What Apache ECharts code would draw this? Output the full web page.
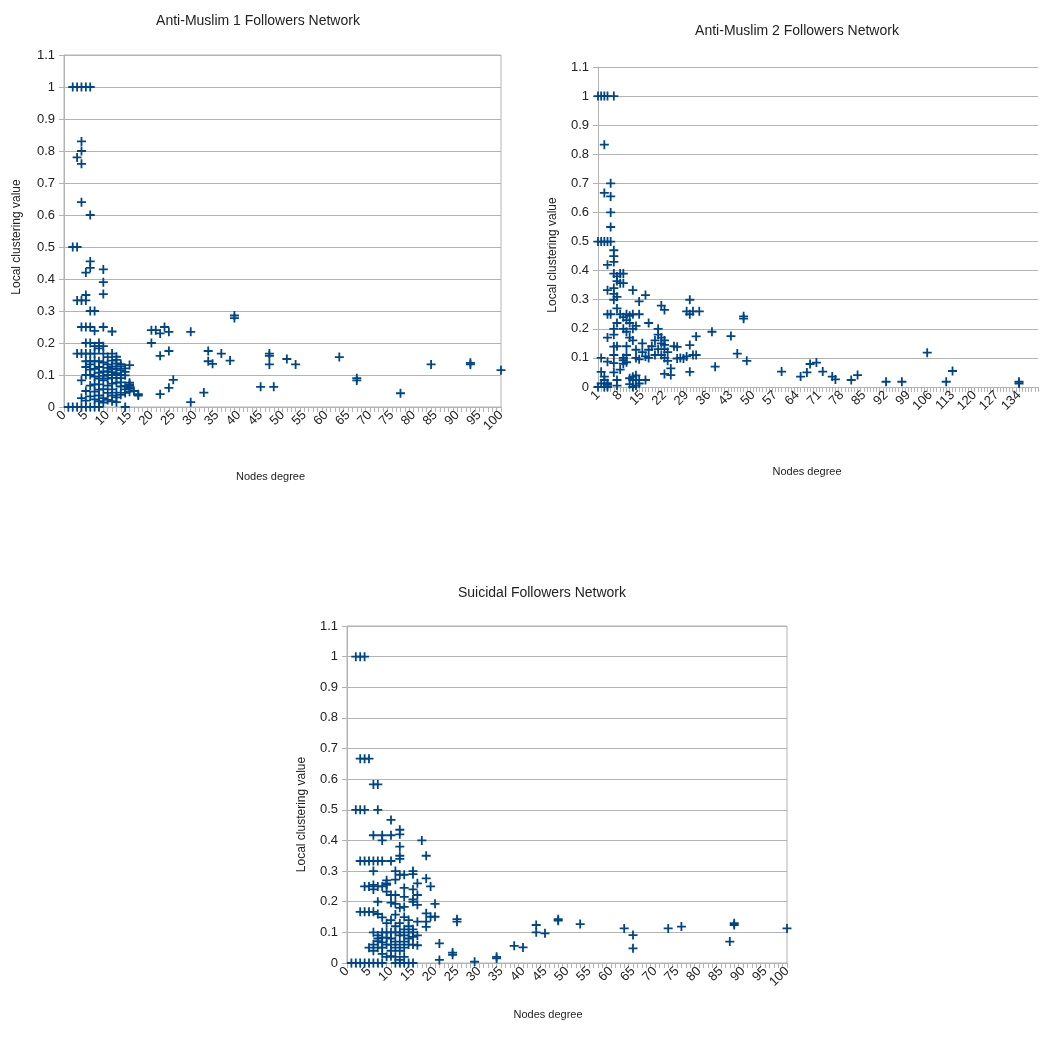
<!DOCTYPE html>
<html>
<head>
<meta charset="utf-8">
<title>Followers networks - local clustering</title>
<script src="https://cdn.jsdelivr.net/npm/echarts@6/dist/echarts.min.js"></script>
<style>
  html, body { margin: 0; padding: 0; background: #fff; }
  #main { width: 1040px; height: 1053px; }
</style>
</head>
<body>
<div id="main"></div>
<script>
// chart titles
const titles = ['Anti-Muslim 1 Followers Network', 'Anti-Muslim 2 Followers Network', 'Suicidal Followers Network'];

// x categories (node degree)
const deg0to100 = [];
for (let i = 0; i <= 100; i++) deg0to100.push(String(i));
const deg1to140 = [];
for (let i = 1; i <= 140; i++) deg1to140.push(String(i));

// [degree, local clustering value]
const am1Data = [
  [2, 1], [3, 1], [4, 1], [5, 1], [6, 1],
  [4, 0.83], [4, 0.8], [3, 0.78], [4, 0.76], [4, 0.64], [6, 0.6],
  [2, 0.5], [3, 0.5],
  [6, 0.455], [6, 0.435], [5, 0.42], [9, 0.43], [9, 0.39], [9, 0.353],
  [3, 0.333], [4, 0.333], [5, 0.333], [5, 0.35],
  [6, 0.3], [7, 0.3],
  [4, 0.25], [5, 0.25], [6, 0.25], [9, 0.25], [7, 0.238], [11, 0.236],
  [5, 0.2], [6, 0.2], [8, 0.19], [8, 0.2], [9, 0.19], [8, 0.183],
  [3, 0.167], [4, 0.167], [5, 0.167], [6, 0.167], [7, 0.167], [11, 0.167],
  [12, 0.157], [12, 0.147], [13, 0.134], [15, 0.131],
  [20, 0.24], [21, 0.24], [20, 0.2], [22, 0.23], [23, 0.25], [24, 0.235],
  [22, 0.16], [24, 0.175], [25, 0.085], [24, 0.06], [22, 0.04],
  [29, 0.235], [29, 0.015], [32, 0.045], [33, 0.175], [33, 0.143], [34, 0.135],
  [36, 0.167], [38, 0.145], [39, 0.286], [39, 0.278],
  [45, 0.063], [47, 0.167], [47, 0.16], [47, 0.133], [48, 0.063], [51, 0.15],
  [53, 0.133], [63, 0.156], [67, 0.09], [67, 0.083], [77, 0.043], [84, 0.133],
  [93, 0.133], [93, 0.138], [100, 0.115],
  [1, 0], [2, 0], [3, 0], [4, 0], [5, 0], [6, 0], [7, 0], [8, 0], [14, 0],
  [4, 0.028], [4, 0.083],
  [5, 0.02], [5, 0.05], [5, 0.1], [5, 0.125], [5, 0.143],
  [6, 0.033], [6, 0.067], [6, 0.1], [6, 0.117], [6, 0.133], [6, 0.143],
  [7, 0.024], [7, 0.048], [7, 0.071], [7, 0.095], [7, 0.119], [7, 0.143], [7, 0.19],
  [8, 0.018], [8, 0.036], [8, 0.054], [8, 0.071], [8, 0.089], [8, 0.107], [8, 0.125], [8, 0.143],
  [9, 0.014], [9, 0.028], [9, 0.056], [9, 0.083], [9, 0.097], [9, 0.111], [9, 0.139], [9, 0.167],
  [10, 0.022], [10, 0.044], [10, 0.067], [10, 0.089], [10, 0.1], [10, 0.111], [10, 0.122], [10, 0.133], [10, 0.156],
  [11, 0.018], [11, 0.036], [11, 0.055], [11, 0.073], [11, 0.091], [11, 0.1], [11, 0.109], [11, 0.118], [11, 0.127], [11, 0.145],
  [12, 0.015], [12, 0.03], [12, 0.045], [12, 0.076], [12, 0.091], [12, 0.106], [12, 0.121], [12, 0.136],
  [13, 0.038], [13, 0.064], [13, 0.077], [13, 0.09], [13, 0.1], [13, 0.115], [13, 0.128],
  [14, 0.044], [14, 0.055], [14, 0.066], [14, 0.099], [14, 0.11], [14, 0.121],
  [15, 0.048], [15, 0.057], [15, 0.062], [15, 0.067], [15, 0.071], [15, 0.076],
  [16, 0.05], [17, 0.04], [17, 0.036]
];

const am2Data = [
  [1, 1], [2, 1], [3, 1], [4, 1], [6, 1],
  [3, 0.833], [3, 0.667], [5, 0.7], [5, 0.655], [5, 0.6], [5, 0.55],
  [1, 0.5], [2, 0.5], [3, 0.5], [4, 0.5], [5, 0.5],
  [6, 0.47], [6, 0.45], [6, 0.43], [4, 0.42],
  [6, 0.39], [7, 0.38], [8, 0.39], [9, 0.39], [9, 0.357], [7, 0.364], [8, 0.357],
  [4, 0.333], [6, 0.34], [12, 0.333], [6, 0.32], [6, 0.3], [7, 0.31],
  [16, 0.316], [14, 0.294], [21, 0.28], [22, 0.265],
  [30, 0.3], [29, 0.26], [31, 0.26], [33, 0.26], [30, 0.25],
  [4, 0.25], [5, 0.25], [7, 0.27], [8, 0.25], [10, 0.25], [11, 0.245], [12, 0.25], [14, 0.25],
  [9, 0.24], [10, 0.23], [7, 0.22], [11, 0.22], [12, 0.2],
  [4, 0.17], [6, 0.2], [6, 0.18], [9, 0.2], [10, 0.19], [13, 0.21], [17, 0.22],
  [20, 0.2], [20, 0.18], [21, 0.17], [22, 0.145], [22, 0.13], [11, 0.17], [12, 0.16],
  [32, 0.174], [37, 0.19], [38, 0.07], [43, 0.175], [45, 0.115], [47, 0.243], [47, 0.235], [48, 0.09],
  [25, 0.14], [29, 0.105], [30, 0.144], [31, 0.11], [26, 0.098], [28, 0.098], [30, 0.052],
  [22, 0.045], [24, 0.064], [24, 0.041], [26, 0.138], [27, 0.1], [32, 0.11],
  [18, 0.14], [19, 0.16], [21, 0.15], [22, 0.16], [23, 0.12], [21, 0.11], [20, 0.13], [22, 0.1], [23, 0.09],
  [2, 0.1], [4, 0.087], [6, 0.139], [6, 0.082], [6, 0.11], [6, 0.05], [7, 0.14], [8, 0.06], [7, 0.005],
  [9, 0.08], [9, 0.092], [9, 0.1], [10, 0.11], [10, 0.085], [10, 0.14], [13, 0.128], [13, 0.1],
  [14, 0.095], [15, 0.15], [15, 0.12], [17, 0.128], [16, 0.105], [17, 0.1], [19, 0.11],
  [12, 0.024], [13, 0.024], [14, 0.024], [16, 0.024], [11, 0.01], [12, 0], [13, 0.005], [14, 0.012],
  [12, 0.035], [13, 0.04], [11, 0.03],
  [2, 0.052], [3, 0.024], [4, 0.013], [7, 0.024], [2, 0.012], [4, 0], [3, 0.036], [4, 0.007], [1, 0], [3, 0],
  [59, 0.053], [65, 0.036], [67, 0.05], [68, 0.079], [70, 0.084], [72, 0.053], [75, 0.036], [76, 0.026],
  [81, 0.024], [83, 0.041], [92, 0.018], [97, 0.018], [105, 0.118], [111, 0.018], [113, 0.055],
  [134, 0.018], [134, 0.012]
];

const suiData = [
  [2, 1], [3, 1], [4, 1],
  [3, 0.667], [4, 0.667], [5, 0.667],
  [6, 0.583], [7, 0.583],
  [2, 0.5], [3, 0.5], [4, 0.5], [7, 0.5],
  [10, 0.467], [6, 0.417], [8, 0.417], [10, 0.417], [8, 0.4], [12, 0.435], [12, 0.42], [17, 0.4],
  [12, 0.38], [12, 0.35], [18, 0.35],
  [3, 0.333], [4, 0.333], [5, 0.333], [6, 0.333], [7, 0.333], [8, 0.333], [10, 0.333], [12, 0.34],
  [6, 0.3], [11, 0.3], [12, 0.288], [11, 0.272], [15, 0.3], [15, 0.29], [13, 0.288], [9, 0.27], [9, 0.255],
  [8, 0.25], [9, 0.26],
  [4, 0.25], [5, 0.25], [6, 0.24], [7, 0.25], [6, 0.255], [16, 0.26], [18, 0.276], [19, 0.25],
  [9, 0.233], [10, 0.222], [13, 0.245], [15, 0.24], [11, 0.222], [13, 0.216], [16, 0.222], [15, 0.208],
  [10, 0.197], [11, 0.193], [7, 0.2], [20, 0.193],
  [3, 0.167], [4, 0.167], [5, 0.167], [6, 0.167], [7, 0.16], [13, 0.183], [12, 0.18], [11, 0.158],
  [15, 0.2], [16, 0.19], [18, 0.162], [19, 0.151], [20, 0.151], [18, 0.135], [16, 0.135], [8, 0.149],
  [25, 0.135], [25, 0.143], [18, 0.118],
  [6, 0.1], [7, 0.09], [8, 0.1], [16, 0.058], [21, 0.064], [21, 0.01], [24, 0.034], [24, 0.027],
  [29, 0.004], [34, 0.015], [34, 0.02], [38, 0.056], [40, 0.051], [43, 0.124], [43, 0.1], [45, 0.097],
  [48, 0.138], [48, 0.143], [53, 0.127], [63, 0.113], [65, 0.091], [65, 0.048], [73, 0.113], [76, 0.119],
  [87, 0.07], [88, 0.124], [88, 0.13], [100, 0.113],
  [1, 0], [2, 0], [3, 0], [4, 0], [5, 0], [6, 0], [7, 0], [8, 0], [11, 0], [12, 0], [13, 0], [14, 0], [15, 0],
  [8, 0.03], [9, 0.02], [10, 0.022],
  [5, 0.05], [6, 0.06], [6, 0.04], [7, 0.071], [7, 0.05], [7, 0.08], [8, 0.067], [8, 0.083], [8, 0.05],
  [9, 0.083], [9, 0.06], [9, 0.1], [10, 0.1], [10, 0.06], [10, 0.08], [10, 0.04],
  [11, 0.1], [11, 0.07], [11, 0.05], [11, 0.12], [12, 0.1], [12, 0.09], [12, 0.06], [12, 0.04],
  [13, 0.11], [13, 0.09], [13, 0.07], [13, 0.05], [14, 0.1], [14, 0.08], [14, 0.06], [14, 0.12],
  [15, 0.1], [15, 0.085], [15, 0.06], [15, 0.11], [16, 0.09], [9, 0.13], [10, 0.14], [12, 0.13],
  [14, 0.14], [13, 0.15], [11, 0.02], [12, 0.01], [13, 0.02]
];

const plusSymbol = 'path://M3.6,0H5.4V3.6H9V5.4H5.4V9H3.6V5.4H0V3.6H3.6Z';
const markColor = '#004586';
const lineGray = '#b3b3b3';
const textColor = '#222';
const font = 'Liberation Sans, Arial, sans-serif';

const chart = echarts.init(document.getElementById('main'));

function xAx(idx, cats, labelEvery, gap, padRight) {
  return {
    type: 'category', gridIndex: idx, data: cats, boundaryGap: false,
    name: 'Nodes degree', nameLocation: 'middle', nameGap: gap,
    nameTextStyle: { fontSize: 11, color: textColor, fontFamily: font, padding: [0, padRight, 0, 0] },
    axisLine: { lineStyle: { color: lineGray } },
    axisTick: { show: true, interval: 0, length: 5, lineStyle: { color: lineGray } },
    axisLabel: { interval: labelEvery - 1, rotate: 45, fontSize: 13, color: textColor, fontFamily: font, margin: 6 },
    splitLine: { show: false }
  };
}

function yAx(idx, gap, padRight) {
  return {
    type: 'value', gridIndex: idx, min: 0, max: 1.1, interval: 0.1,
    name: 'Local clustering value', nameLocation: 'middle', nameGap: gap,
    nameTextStyle: { fontSize: 12, color: textColor, fontFamily: font, padding: [0, padRight, 0, 0] },
    axisLine: { show: true, lineStyle: { color: lineGray } },
    axisTick: { show: true, length: 5, lineStyle: { color: lineGray } },
    axisLabel: { fontSize: 13, color: textColor, fontFamily: font, margin: 9 },
    splitLine: { lineStyle: { color: lineGray } }
  };
}

function series(idx, pts, shift) {
  return {
    type: 'scatter', xAxisIndex: idx, yAxisIndex: idx,
    symbol: plusSymbol, symbolSize: 9,
    itemStyle: { color: markColor, opacity: 1 },
    data: pts.map(p => [p[0] - shift, p[1]]),
    silent: true
  };
}

function gridBox(left, top, width, height, border) {
  return {
    left: left, top: top, width: width, height: height,
    containLabel: false, outerBoundsMode: 'none',
    show: true, borderColor: border ? lineGray : 'transparent', borderWidth: 1, backgroundColor: 'transparent'
  };
}

const option = {
  animation: false,
  backgroundColor: '#fff',
  title: [
    { text: titles[0], left: 253, top: 9, textAlign: 'center', textStyle: { fontSize: 14, fontWeight: 'normal', color: textColor, fontFamily: font } },
    { text: titles[1], left: 792, top: 19, textAlign: 'center', textStyle: { fontSize: 14, fontWeight: 'normal', color: textColor, fontFamily: font } },
    { text: titles[2], left: 537, top: 581, textAlign: 'center', textStyle: { fontSize: 14, fontWeight: 'normal', color: textColor, fontFamily: font } }
  ],
  grid: [
    gridBox(64, 55, 437, 352, true),
    gridBox(598, 67, 440, 320, false),
    gridBox(347, 626, 440, 337, true)
  ],
  xAxis: [
    xAx(0, deg0to100, 5, 64, 24),
    xAx(1, deg1to140, 7, 79, 22),
    xAx(2, deg0to100, 5, 46, 38)
  ],
  yAxis: [
    yAx(0, 41, 12),
    yAx(1, 39, 56),
    yAx(2, 39, 40)
  ],
  series: [
    series(0, am1Data, 0),
    series(1, am2Data, 1),
    series(2, suiData, 0)
  ]
};

chart.setOption(option);
window.addEventListener('resize', function () { chart.resize(); });
</script>
</body>
</html>
